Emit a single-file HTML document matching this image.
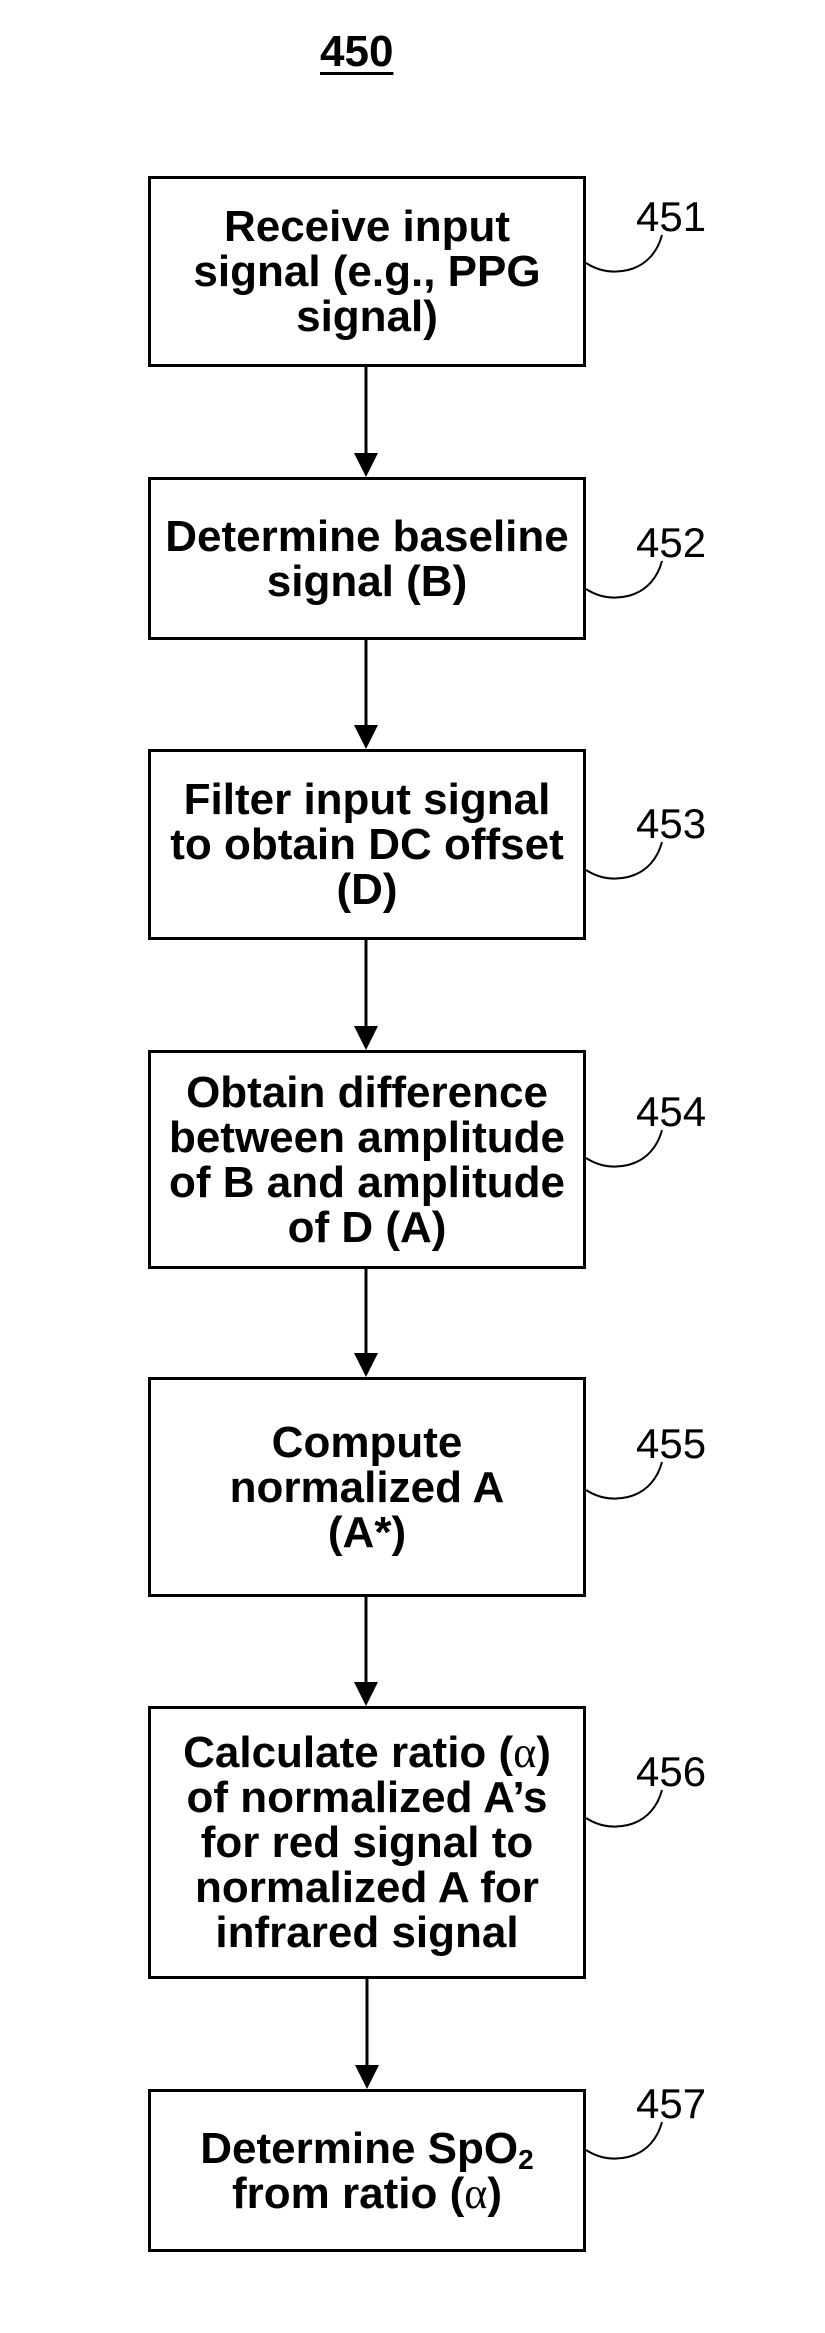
<!DOCTYPE html>
<html><head><meta charset="utf-8"><style>
body{margin:0;background:#fff;width:825px;height:2333px;position:relative;overflow:hidden;font-family:"Liberation Sans",Arial,sans-serif;}
.box{position:absolute;left:148px;width:432px;border:3px solid #000;display:flex;align-items:center;justify-content:center;text-align:center;font-weight:bold;font-size:44px;line-height:45px;color:#000;}
.box>div{width:100%;}
.num{position:absolute;left:636px;font-size:42px;line-height:42px;color:#000;}
.t{position:absolute;left:320px;top:30px;font-weight:bold;font-size:44px;line-height:44px;text-decoration:underline;text-decoration-thickness:3px;text-underline-offset:6px;}
.a{font-family:"Liberation Serif",serif;font-weight:normal;}
sub{font-size:28px;line-height:0;vertical-align:-6px;}
</style></head><body>
<div class="t">450</div>
<div class="box" style="top:176px;height:185px"><div>Receive input<br>signal (e.g., PPG<br>signal)</div></div>
<div class="box" style="top:477px;height:157px"><div>Determine baseline<br>signal (B)</div></div>
<div class="box" style="top:749px;height:185px"><div>Filter input signal<br>to obtain DC offset<br>(D)</div></div>
<div class="box" style="top:1050px;height:213px"><div>Obtain difference<br>between amplitude<br>of B and amplitude<br>of D (A)</div></div>
<div class="box" style="top:1377px;height:214px"><div>Compute<br>normalized A<br>(A*)</div></div>
<div class="box" style="top:1706px;height:267px"><div>Calculate ratio (<span class="a">α</span>)<br>of normalized A’s<br>for red signal to<br>normalized A for<br>infrared signal</div></div>
<div class="box" style="top:2089px;height:157px"><div>Determine SpO<sub>2</sub><br>from ratio (<span class="a">α</span>)</div></div>
<div class="num" style="top:196px">451</div>
<div class="num" style="top:522px">452</div>
<div class="num" style="top:803px">453</div>
<div class="num" style="top:1091px">454</div>
<div class="num" style="top:1423px">455</div>
<div class="num" style="top:1751px">456</div>
<div class="num" style="top:2083px">457</div>
<svg width="825" height="2333" style="position:absolute;left:0;top:0" fill="none" stroke="#000" stroke-width="2">
<path d="M586 263 C600 272 615 273 628 270 C648 265 658 250 662 235"/>
<path d="M586 589 C600 598 615 599 628 596 C648 591 658 576 662 561"/>
<path d="M586 870 C600 879 615 880 628 877 C648 872 658 857 662 842"/>
<path d="M586 1158 C600 1167 615 1168 628 1165 C648 1160 658 1145 662 1130"/>
<path d="M586 1490 C600 1499 615 1500 628 1497 C648 1492 658 1477 662 1462"/>
<path d="M586 1818 C600 1827 615 1828 628 1825 C648 1820 658 1805 662 1790"/>
<path d="M586 2150 C600 2159 615 2160 628 2157 C648 2152 658 2137 662 2122"/>
<g stroke-width="3">
<line x1="366" y1="367" x2="366" y2="455"/>
<line x1="366" y1="640" x2="366" y2="727"/>
<line x1="366" y1="940" x2="366" y2="1028"/>
<line x1="366" y1="1269" x2="366" y2="1355"/>
<line x1="366" y1="1597" x2="366" y2="1684"/>
<line x1="367" y1="1979" x2="367" y2="2067"/>
</g>
<g fill="#000" stroke="none">
<polygon points="354,453 378,453 366,477"/>
<polygon points="354,725 378,725 366,749"/>
<polygon points="354,1026 378,1026 366,1050"/>
<polygon points="354,1353 378,1353 366,1377"/>
<polygon points="354,1682 378,1682 366,1706"/>
<polygon points="355,2065 379,2065 367,2089"/>
</g>
</svg>
</body></html>
